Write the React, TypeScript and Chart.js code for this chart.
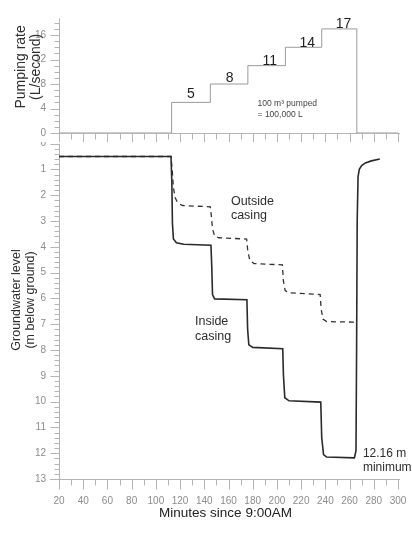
import React, { useEffect, useRef } from "react";
import { Chart, registerables } from "chart.js";
Chart.register(...registerables);

const FONT = "'Liberation Sans', Arial, sans-serif";

// ---- Data ----
const minuteTicks = [20, 40, 60, 80, 100, 120, 140, 160, 180, 200, 220, 240, 260, 280, 300];
const rateTicks = [0, 4, 8, 12, 16];
const depthTicks = [0, 1, 2, 3, 4, 5, 6, 7, 8, 9, 10, 11, 12, 13];

const pumpMinutes = [20, 113, 145, 176, 207, 237, 266, 300];
const pumpRates = [0, 5, 8, 11, 14, 17, 0, 0];

const stepLabels = ["5", "8", "11", "14", "17"];
const stepLabelMinutes = [129, 161, 194, 225, 255];
const stepLabelRates = [6.4, 8.9, 11.8, 14.7, 17.8];

const insideMinutes = [20, 112.5, 113.2, 113.7, 114.5, 117, 123, 145.5, 146.2, 146.8, 148.5, 175.2, 175.8, 176.8, 180, 204.8, 205.4, 206.5, 210, 236.2, 237, 238.5, 241, 264, 265.3, 265.8, 266.3, 267, 268, 270, 273, 278, 285];
const insideDepth = [0.5, 0.5, 1.5, 3.1, 3.7, 3.84, 3.9, 3.94, 4.8, 5.85, 6.02, 6.05, 7.2, 7.8, 7.9, 7.95, 9.0, 9.85, 9.97, 10.02, 11.4, 12.05, 12.15, 12.18, 11.9, 8.0, 3.0, 1.3, 1.0, 0.85, 0.75, 0.67, 0.6];

const outsideMinutes = [20, 112.5, 113.5, 114.5, 116, 118, 122, 145, 145.8, 146.8, 148.5, 152, 175, 175.8, 177.5, 181, 204.5, 205.3, 206.8, 210, 235.7, 236.5, 238, 241, 265.5];
const outsideDepth = [0.5, 0.5, 1.0, 1.7, 2.1, 2.3, 2.4, 2.45, 2.8, 3.3, 3.58, 3.65, 3.7, 4.1, 4.52, 4.65, 4.7, 5.3, 5.7, 5.78, 5.85, 6.4, 6.8, 6.9, 6.92];

// ---- Helpers ----
type Label = { text: string; x: number; y: number; size: number; align?: CanvasTextAlign; weight?: string; color?: string };
type YTitle = { lines: string[]; xs: number[]; at: number; size: number };
type XTitle = { text: string; y: number; size: number; dx: number };

const pts = (xs: number[], ys: number[]) => xs.map((x, i) => ({ x, y: ys[i] }));

const bgPlugin = {
  id: "bg",
  beforeDraw(chart: any) {
    const { ctx, width, height } = chart;
    ctx.save();
    ctx.fillStyle = "#ffffff";
    ctx.fillRect(0, 0, width, height);
    ctx.restore();
  },
};

const makeDecor = (o: {
  xStep: number; xMajorEvery: number; xLen: [number, number];
  yStep: number; yMajorEvery: number; yLen: [number, number];
  xLineLeftExt: number; yLineBottomExt: number;
}) => ({
  id: "decor",
  beforeDatasetsDraw(chart: any) {
    const { ctx, chartArea, scales } = chart;
    const xs = scales.x, ys = scales.y;
    ctx.save();
    ctx.strokeStyle = "#b4b4b4";
    ctx.lineWidth = 1;
    ctx.beginPath();
    const bx = Math.round(chartArea.bottom) + 0.5;
    const lx = Math.round(chartArea.left) + 0.5;
    ctx.moveTo(chartArea.left - o.xLineLeftExt, bx);
    ctx.lineTo(chartArea.right + 2, bx);
    ctx.moveTo(lx, chartArea.top);
    ctx.lineTo(lx, chartArea.bottom + o.yLineBottomExt);
    const nx = Math.round((xs.max - xs.min) / o.xStep);
    for (let i = 0; i <= nx; i++) {
      const v = xs.min + i * o.xStep;
      const px = Math.round(xs.getPixelForValue(v)) + 0.5;
      const len = i % o.xMajorEvery === 0 ? o.xLen[0] : o.xLen[1];
      ctx.moveTo(px, bx);
      ctx.lineTo(px, bx + len);
    }
    const lo = Math.min(ys.min, ys.max), hi = Math.max(ys.min, ys.max);
    const ny = Math.floor((hi - lo) / o.yStep + 1e-6);
    for (let i = 0; i <= ny; i++) {
      const v = lo + i * o.yStep;
      const py = Math.round(ys.getPixelForValue(v)) + 0.5;
      const len = i % o.yMajorEvery === 0 ? o.yLen[0] : o.yLen[1];
      ctx.moveTo(lx - len, py);
      ctx.lineTo(lx, py);
    }
    ctx.stroke();
    ctx.restore();
  },
});

const makeTexts = (labels: Label[], yTitle: YTitle, xTitle?: XTitle) => ({
  id: "texts",
  afterDatasetsDraw(chart: any) {
    const { ctx, chartArea, scales } = chart;
    const xs = scales.x, ys = scales.y;
    ctx.save();
    ctx.textBaseline = "middle";
    for (const l of labels) {
      ctx.font = `${l.weight ?? "normal"} ${l.size}px ${FONT}`;
      ctx.fillStyle = l.color ?? "#2e2e2e";
      ctx.textAlign = l.align ?? "center";
      ctx.fillText(l.text, xs.getPixelForValue(l.x), ys.getPixelForValue(l.y));
    }
    const cy = ys.getPixelForValue(yTitle.at);
    ctx.font = `${yTitle.size}px ${FONT}`;
    ctx.fillStyle = "#2e2e2e";
    ctx.textAlign = "center";
    yTitle.lines.forEach((t, i) => {
      ctx.save();
      ctx.translate(yTitle.xs[i], cy);
      ctx.rotate(-Math.PI / 2);
      ctx.fillText(t, 0, 0);
      ctx.restore();
    });
    if (xTitle) {
      ctx.font = `${xTitle.size}px ${FONT}`;
      ctx.fillStyle = "#222";
      ctx.textAlign = "center";
      ctx.fillText(xTitle.text, (chartArea.left + chartArea.right) / 2 + xTitle.dx, xTitle.y);
    }
    ctx.restore();
  },
});

const tickFont = { family: FONT, size: 10 };
const TICK_COLOR = "#8c8c8c";

const fitY = (s: any) => { s.width = 59; s.paddingTop = 0; s.paddingBottom = 0; };
const fitX = (h: number) => (s: any) => { s.height = h; s.paddingLeft = 0; s.paddingRight = 0; };

export default function App() {
  const topRef = useRef<HTMLCanvasElement>(null);
  const botRef = useRef<HTMLCanvasElement>(null);

  useEffect(() => {
    const topLabels: Label[] = stepLabels.map((t, i) => ({
      text: t, x: stepLabelMinutes[i], y: stepLabelRates[i], size: 14, color: "#1e1e1e",
    }));
    topLabels.push({ text: "100 m³ pumped", x: 184, y: 4.8, size: 8.5, align: "left", color: "#444" });
    topLabels.push({ text: "= 100,000 L", x: 184, y: 3.0, size: 8.5, align: "left", color: "#444" });

    const top = new Chart(topRef.current!, {
      type: "line",
      data: {
        datasets: [
          {
            data: pts(pumpMinutes, pumpRates),
            stepped: "before",
            borderColor: "#9a9a9a",
            borderWidth: 1,
            pointRadius: 0,
            fill: false,
          },
        ],
      },
      options: {
        animation: false,
        responsive: false,
        maintainAspectRatio: false,
        layout: { padding: { top: 18.5, right: 14, left: 0, bottom: 0 } },
        plugins: { legend: { display: false }, tooltip: { enabled: false } },
        scales: {
          x: {
            type: "linear", min: 20, max: 300,
            grid: { display: false, drawTicks: false }, border: { display: false },
            ticks: { display: false },
            afterFit: fitX(9),
          },
          y: {
            type: "linear", min: 0, max: 18.7,
            grid: { display: false, drawTicks: false }, border: { display: false },
            afterBuildTicks: (s: any) => { s.ticks = rateTicks.map((v) => ({ value: v })); },
            ticks: { font: tickFont, color: TICK_COLOR, padding: 13 },
            afterFit: fitY,
          },
        },
      } as any,
      plugins: [
        bgPlugin,
        makeDecor({ xStep: 10, xMajorEvery: 2, xLen: [9, 6], yStep: 1, yMajorEvery: 4, yLen: [9, 5], xLineLeftExt: 0, yLineBottomExt: 9 }),
        makeTexts(topLabels, { lines: ["Pumping rate", "(L/second)"], xs: [21, 36], at: 10.8, size: 14 }),
      ] as any,
    });

    const botLabels: Label[] = [
      { text: "Outside", x: 162, y: 2.26, size: 12.5, align: "left" },
      { text: "casing", x: 162, y: 2.8, size: 12.5, align: "left" },
      { text: "Inside", x: 132.3, y: 6.91, size: 12.5, align: "left" },
      { text: "casing", x: 132.3, y: 7.46, size: 12.5, align: "left" },
      { text: "12.16 m", x: 271, y: 12.03, size: 12, align: "left" },
      { text: "minimum", x: 271, y: 12.55, size: 12, align: "left" },
    ];

    const bot = new Chart(botRef.current!, {
      type: "line",
      data: {
        datasets: [
          {
            label: "Inside casing",
            data: pts(insideMinutes, insideDepth),
            borderColor: "#2a2a2a",
            borderWidth: 1.6,
            pointRadius: 0,
            tension: 0,
            fill: false,
          },
          {
            label: "Outside casing",
            data: pts(outsideMinutes, outsideDepth),
            borderColor: "#333",
            borderWidth: 1.3,
            borderDash: [5, 4],
            pointRadius: 0,
            tension: 0,
            fill: false,
          },
        ],
      },
      options: {
        animation: false,
        responsive: false,
        maintainAspectRatio: false,
        layout: { padding: { top: 13.6, right: 14, left: 0, bottom: 0 } },
        plugins: { legend: { display: false }, tooltip: { enabled: false } },
        scales: {
          x: {
            type: "linear", min: 20, max: 300,
            grid: { display: false, drawTicks: false }, border: { display: false },
            afterBuildTicks: (s: any) => { s.ticks = minuteTicks.map((v) => ({ value: v })); },
            ticks: { font: tickFont, color: TICK_COLOR, padding: 16, maxRotation: 0, minRotation: 0, autoSkip: false },
            afterFit: fitX(60),
          },
          y: {
            type: "linear", min: 0, max: 13, reverse: true,
            grid: { display: false, drawTicks: false }, border: { display: false },
            afterBuildTicks: (s: any) => { s.ticks = depthTicks.map((v) => ({ value: v })); },
            ticks: { font: tickFont, color: TICK_COLOR, padding: 13 },
            afterFit: fitY,
          },
        },
      } as any,
      plugins: [
        bgPlugin,
        makeDecor({ xStep: 10, xMajorEvery: 2, xLen: [10, 6], yStep: 0.2, yMajorEvery: 5, yLen: [9, 5], xLineLeftExt: 9, yLineBottomExt: 0 }),
        makeTexts(
          botLabels,
          { lines: ["Groundwater level", "(m below ground)"], xs: [17, 31], at: 6.06, size: 12.5 },
          { text: "Minutes since 9:00AM", y: 383, size: 13.5, dx: -3 }
        ),
      ] as any,
    });

    return () => {
      top.destroy();
      bot.destroy();
    };
  }, []);

  return (
    <div style={{ position: "absolute", left: 0, top: 0, width: 412, height: 539, background: "#fff" }}>
      <canvas ref={botRef} width={412} height={409} style={{ position: "absolute", left: 0, top: 130, display: "block", zIndex: 1 }} />
      <canvas ref={topRef} width={412} height={142} style={{ position: "absolute", left: 0, top: 0, display: "block", zIndex: 2 }} />
    </div>
  );
}
